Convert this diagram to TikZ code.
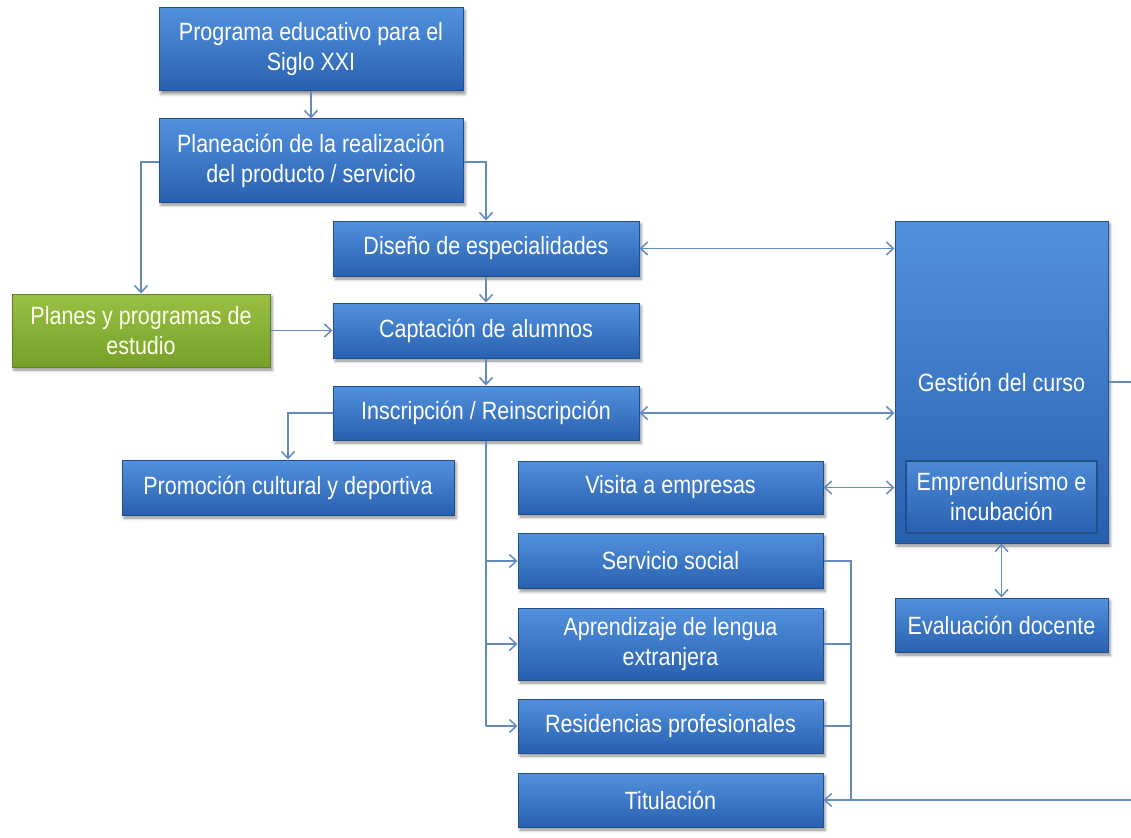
\documentclass[tikz,border=0pt]{standalone}
\usepackage{fontspec}
\setmainfont[FakeStretch=0.86]{Liberation Sans}
\usetikzlibrary{arrows.meta,shadows.blur}
\definecolor{azulclaro}{RGB}{82,145,222}
\definecolor{azuloscuro}{RGB}{40,96,176}
\definecolor{azulborde}{RGB}{36,78,138}
\definecolor{verdeclaro}{RGB}{152,192,68}
\definecolor{verdeoscuro}{RGB}{118,160,42}
\definecolor{verdeborde}{RGB}{96,128,40}
\definecolor{linea}{RGB}{100,138,190}

\tikzset{
  caja/.style={draw=azulborde, line width=1pt, top color=azulclaro, bottom color=azuloscuro,
    text=white, align=center, inner sep=0pt, font=\fontsize{25}{30}\selectfont,
    blur shadow={shadow xshift=2pt, shadow yshift=-3pt, shadow blur radius=3pt, shadow opacity=45}},
  cajaverde/.style={caja, draw=verdeborde, top color=verdeclaro, bottom color=verdeoscuro, text=white!92!yellow},
  cajainterna/.style={draw=azulborde, line width=1.5pt, top color=azulclaro!85!azuloscuro, bottom color=azuloscuro,
    text=white, align=center, inner sep=0pt, font=\fontsize{25}{30}\selectfont},
  flecha/.style={draw=linea, line width=1.5pt, -{Straight Barb[length=7pt,width=13pt]}},
  dobleflecha/.style={flecha, {Straight Barb[length=7pt,width=13pt]}-{Straight Barb[length=7pt,width=13pt]}},
  linea/.style={draw=linea, line width=1.5pt}
}

\begin{document}
\begin{tikzpicture}[x=1pt,y=-1pt]
        \useasboundingbox (0,0) rectangle (1131,837);
        % bordes
        \coordinate (bordeA) at (1131,382);
        \coordinate (bordeB) at (1131,800);
        \coordinate (codo) at (851,800);

        % cajas
        \node[caja, minimum width=304, minimum height=83] (programa) at (311,49.5) {Programa educativo para el\\Siglo XXI};
        \node[caja, minimum width=304, minimum height=83] (planeacion) at (311,160.5) {Planeación de la realización\\del producto / servicio};
        \node[caja, minimum width=306, minimum height=55] (diseno) at (486,248.5) {Diseño de especialidades};
        \node[cajaverde, minimum width=258, minimum height=73] (planes) at (141,330.5) {Planes y programas de\\estudio};
        \node[caja, minimum width=306, minimum height=55] (captacion) at (486,330.5) {Captación de alumnos};
        \node[caja, minimum width=306, minimum height=54] (inscripcion) at (486,413) {Inscripción / Reinscripción};
        \node[caja, minimum width=332, minimum height=55] (promocion) at (288,487.5) {Promoción cultural y deportiva};
        \node[caja, minimum width=305, minimum height=53] (visita) at (670.5,487.5) {Visita a empresas};
        \node[caja, minimum width=305, minimum height=55] (servicio) at (670.5,561) {Servicio social};
        \node[caja, minimum width=305, minimum height=72] (aprendizaje) at (670.5,644) {Aprendizaje de lengua\\extranjera};
        \node[caja, minimum width=305, minimum height=54] (residencias) at (670.5,726) {Residencias profesionales};
        \node[caja, minimum width=305, minimum height=54] (titulacion) at (670.5,800) {Titulación};
        \node[caja, minimum width=213, minimum height=322] (gestion) at (1001.5,382) {\raisebox{-3pt}{Gestión del curso}};
        \node[cajainterna, minimum width=191, minimum height=72] (emprendurismo) at (1001.5,497) {Emprendurismo e\\incubación};
        \node[caja, minimum width=213, minimum height=54] (evaluacion) at (1001.5,625) {Evaluación docente};

        % conexiones
        \draw[flecha] (programa) -- (planeacion);
        \draw[flecha] ([yshift=-1.5pt]planeacion.west) -| (planes.north);
        \draw[flecha] ([yshift=-1.5pt]planeacion.east) -| (diseno.north);
        \draw[flecha] (diseno) -- (captacion);
        \draw[flecha] (planes) -- (captacion);
        \draw[flecha] (captacion) -- (inscripcion);
        \draw[flecha] (inscripcion.west) -| (promocion.north);
        \draw[linea] (inscripcion.south) -- (inscripcion.south |- residencias.west);
        \draw[flecha] (inscripcion.south |- servicio.west) -- (servicio.west);
        \draw[flecha] (inscripcion.south |- aprendizaje.west) -- (aprendizaje.west);
        \draw[flecha] (inscripcion.south |- residencias.west) -- (residencias.west);
        \draw[dobleflecha] (diseno.east) -- (diseno.east -| gestion.west);
        \draw[dobleflecha] (inscripcion.east) -- (inscripcion.east -| gestion.west);
        \draw[dobleflecha] (visita.east) -- (visita.east -| gestion.west);
        \draw[dobleflecha] (gestion.south) -- (evaluacion.north);
        \draw[linea] (gestion.east) -- (bordeA);
        \draw[linea] (servicio.east) -| (codo);
        \draw[linea] (aprendizaje.east) -- (aprendizaje.east -| codo);
        \draw[linea] (residencias.east) -- (residencias.east -| codo);
        \draw[flecha] (bordeB) -- (titulacion.east);
\end{tikzpicture}
\end{document}
